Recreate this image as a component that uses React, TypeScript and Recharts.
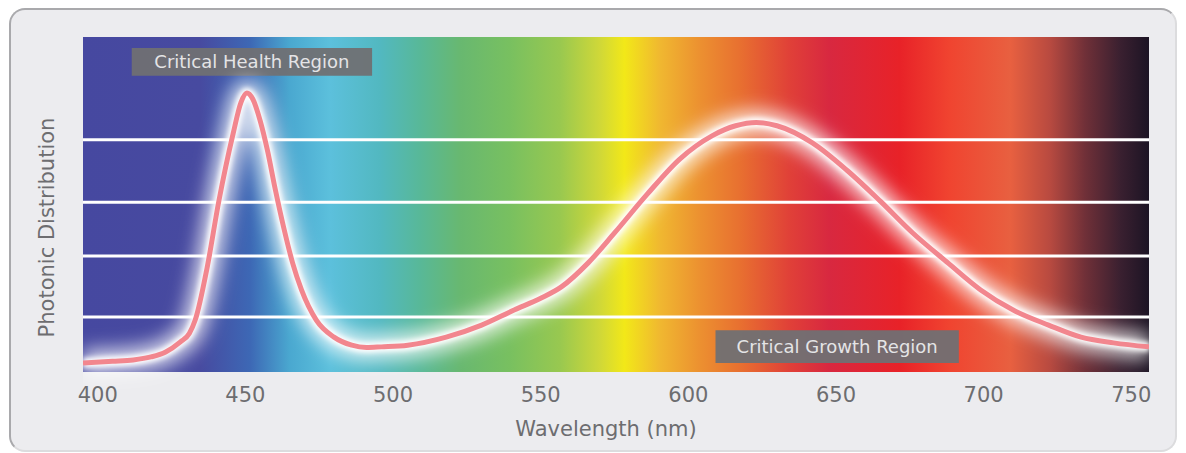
import React from "react"
import {
  LineChart,
  Line,
  XAxis,
  YAxis,
  ReferenceArea,
  ReferenceLine,
  Label,
} from "recharts"

// wavelength (nm) and relative photon output
const wavelengths = [
  395, 405, 412, 418, 423, 428, 431, 433, 437, 441, 445.8, 448.5, 450.5, 452.5, 455, 457.5, 460, 463,
  466, 469, 474, 480, 486, 491, 496, 505, 518, 530, 541, 550, 557, 566, 575, 586, 597, 608, 616, 623,
  630, 642, 654, 665, 676, 688, 699, 710, 722, 733, 744, 756,
]
const photons = [
  2.7, 3.2, 3.6, 4.5, 6, 9, 11.5, 15.5, 31, 51, 71, 80.5, 83.3, 81.5, 75, 66, 55, 43,
  32.5, 24.5, 15.5, 10.4, 8, 7.3, 7.5, 8, 10.4, 14, 18.5, 22, 25.4, 32.5, 41.5, 53, 63.5, 70.5, 73.5, 74.5,
  73.5, 68.4, 60, 51, 41.5, 32.5, 24.5, 18.5, 14, 10.4, 8.7, 7.5,
]
const xTicks = [400, 450, 500, 550, 600, 650, 700, 750]
const gridLevels = [16.4, 34.6, 50.7, 69.3]

const regions = [
  { name: "Critical Health Region", x1: 411.5, x2: 492.9, y1: 88.4, y2: 96.7 },
  { name: "Critical Growth Region", x1: 609.2, x2: 691.6, y1: 2.7, y2: 12.5 },
]

const spectrum: [number, string][] = [
  [0, "#4648a0"],
  [0.11, "#474aa0"],
  [0.157, "#3d68b5"],
  [0.194, "#4aa8d0"],
  [0.232, "#5cc0dc"],
  [0.279, "#52b8c0"],
  [0.316, "#58b898"],
  [0.354, "#68b870"],
  [0.4, "#78c060"],
  [0.447, "#98c850"],
  [0.485, "#d0d838"],
  [0.508, "#f2e818"],
  [0.541, "#f0b830"],
  [0.579, "#ec9030"],
  [0.616, "#e87030"],
  [0.663, "#e04038"],
  [0.7, "#d82840"],
  [0.766, "#e82228"],
  [0.813, "#f04430"],
  [0.87, "#e86040"],
  [0.907, "#b84a40"],
  [0.94, "#703038"],
  [0.973, "#3a2030"],
  [1, "#1c1424"],
]

const data = wavelengths.map((wl, i) => ({ wl, v: photons[i] }))

const FONT = "'DejaVu Sans', sans-serif"
const TEXT = "#6d6d70"

export default function App() {
  return (
    <div style={{ position: "relative", width: 1170, height: 445, fontFamily: FONT }}>
      <div
        style={{
          position: "absolute",
          left: 1,
          top: 0,
          width: 1168,
          height: 444,
          boxSizing: "border-box",
          background: "#ececef",
          borderRadius: 16,
          borderTop: "2px solid #a9a9ac",
          borderLeft: "2px solid #a9a9ac",
          borderRight: "2px solid #dcdcde",
          borderBottom: "2px solid #dcdcde",
        }}
      />
      <div style={{ position: "absolute", left: 0, top: 0 }}>
        <LineChart width={1170} height={445} data={data} margin={{ top: 29, right: 29, bottom: 51, left: 35 }}>
          <defs>
            <linearGradient id="spectrum" x1="0" y1="0" x2="1" y2="0">
              {spectrum.map(([o, c]) => (
                <stop key={o} offset={o} stopColor={c} />
              ))}
            </linearGradient>
            <filter id="glowWide" x="-20%" y="-40%" width="140%" height="180%">
              <feGaussianBlur stdDeviation="9" />
            </filter>
            <filter id="glowNarrow" x="-20%" y="-40%" width="140%" height="180%">
              <feGaussianBlur stdDeviation="2.5" />
            </filter>
          </defs>
          <XAxis
            dataKey="wl"
            type="number"
            domain={[395, 756]}
            ticks={xTicks}
            allowDataOverflow
            axisLine={false}
            tickLine={false}
            tickMargin={9}
            height={30}
            tick={{ fill: TEXT, fontSize: 21, fontFamily: FONT }}
          >
            <Label
              value="Wavelength (nm)"
              position="bottom"
              offset={19}
              dx={-10}
              style={{ fill: TEXT, fontSize: 21, fontFamily: FONT }}
            />
          </XAxis>
          <YAxis
            type="number"
            domain={[0, 100]}
            width={40}
            tick={false}
            axisLine={false}
            tickLine={false}
          >
            <Label
              content={({ viewBox }: any) => {
                const cx = viewBox.x + 4
                const cy = viewBox.y + viewBox.height / 2 + 23
                return (
                  <text
                    x={cx}
                    y={cy}
                    transform={`rotate(-90 ${cx} ${cy})`}
                    textAnchor="middle"
                    dominantBaseline="central"
                    fill={TEXT}
                    fontSize={21}
                    fontFamily={FONT}
                  >
                    Photonic Distribution
                  </text>
                )
              }}
            />
          </YAxis>
          <ReferenceArea x1={395} x2={756} y1={0} y2={100} fill="url(#spectrum)" fillOpacity={1} stroke="none" />
          {gridLevels.map((g) => (
            <ReferenceLine key={g} y={g} stroke="#ffffff" strokeWidth={3} />
          ))}
          <Line
            type="monotone"
            dataKey="v"
            stroke="#ffffff"
            strokeWidth={26}
            strokeOpacity={0.75}
            filter="url(#glowWide)"
            dot={false}
            activeDot={false}
            isAnimationActive={false}
          />
          <Line
            type="monotone"
            dataKey="v"
            stroke="#ffffff"
            strokeWidth={10}
            filter="url(#glowNarrow)"
            dot={false}
            activeDot={false}
            isAnimationActive={false}
          />
          <Line
            type="monotone"
            dataKey="v"
            stroke="#f2868e"
            strokeWidth={5}
            dot={false}
            activeDot={false}
            isAnimationActive={false}
          />
          {regions.map((r) => (
            <ReferenceArea
              key={r.name}
              x1={r.x1}
              x2={r.x2}
              y1={r.y1}
              y2={r.y2}
              fill="#707073"
              fillOpacity={0.95}
              stroke="none"
            >
              <Label value={r.name} position="center" style={{ fill: "#e4e4e6", fontSize: 18, fontFamily: FONT }} />
            </ReferenceArea>
          ))}
        </LineChart>
      </div>
    </div>
  )
}
